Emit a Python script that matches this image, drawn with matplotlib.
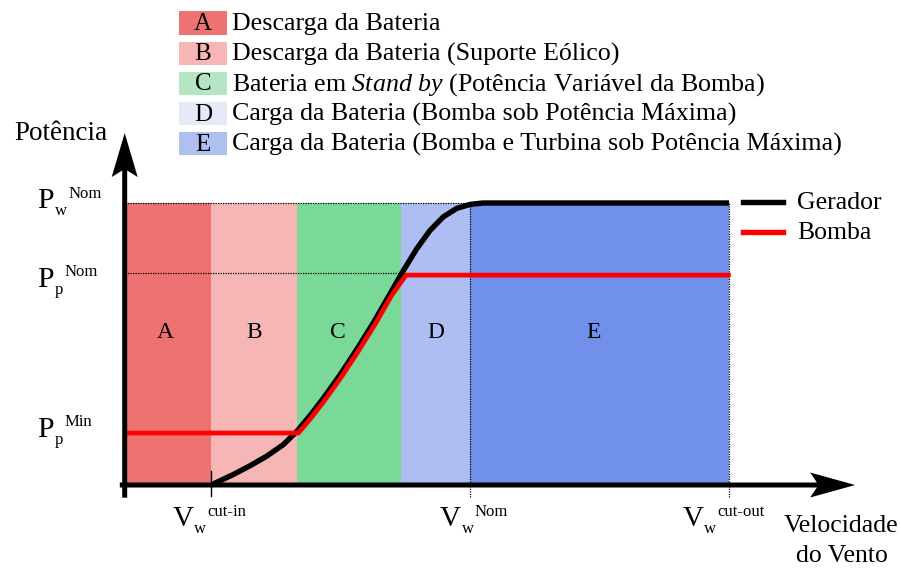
import matplotlib
matplotlib.use("Agg")
import matplotlib.pyplot as plt
import matplotlib.transforms as mtransforms
from matplotlib.patches import FancyArrow, Rectangle

plt.rcParams["font.family"] = ["Liberation Serif", "DejaVu Serif"]
plt.rcParams["mathtext.fontset"] = "custom"
plt.rcParams["mathtext.rm"] = "Liberation Serif"
plt.rcParams["mathtext.it"] = "Liberation Serif:italic"

# velocidades características (m/s) e potências normalizadas (P_w^Nom = 1)
v_cut_in = 3.0
v_nom = 12.0
v_cut_out = 21.0
p_w_nom = 1.0
p_p_nom = 0.75
p_p_min = 0.19

# limites das regiões de operação
region_edges = [0.0, 3.0, 6.0, 9.6, 12.0, 21.0]
region_names = ["A", "B", "C", "D", "E"]
region_colors = ["#ee7272", "#f6b6b6", "#7ad898", "#aebef2", "#7190ea"]
legend_colors = ["#ee7272", "#f6b6b6", "#b4e6c4", "#e6eaf8", "#aec0f0"]
legend_texts = [
    "Descarga da Bateria",
    "Descarga da Bateria (Suporte Eólico)",
    r"Bateria em $\mathit{Stand\ by}$ (Potência Variável da Bomba)",
    "Carga da Bateria (Bomba sob Potência Máxima)",
    "Carga da Bateria (Bomba e Turbina sob Potência Máxima)",
]

# curva do gerador
gen_v = [3.0, 3.77, 4.35, 4.93, 5.51, 5.98, 6.44, 6.90, 7.48, 8.06, 8.64,
         9.22, 9.68, 10.15, 10.61, 11.07, 11.54, 12.0, 12.45, 21.0]
gen_p = [0.0, 0.037, 0.068, 0.102, 0.143, 0.19, 0.246, 0.307, 0.390, 0.480,
         0.575, 0.678, 0.760, 0.838, 0.903, 0.951, 0.981, 0.995, 1.0, 1.0]

# curva da bomba
pump_v = [0.0, 5.98, 6.44, 6.90, 7.48, 8.06, 8.64, 9.22, 9.72, 21.0]
pump_p = [0.19, 0.19, 0.246, 0.307, 0.390, 0.480, 0.575, 0.678, 0.75, 0.75]

W, H = 901, 569
X0, SX = 124.7, 28.78   # pixel da origem e pixels por m/s
Y0, SY = 485.0, 282.0   # pixel da origem e pixels por unidade de potência

fig = plt.figure(figsize=(W / 100, H / 100), dpi=100)
ax = fig.add_axes([0, 0, 1, 1])
ax.set_xlim(-X0 / SX, (W - X0) / SX)
ax.set_ylim((Y0 - H) / SY, Y0 / SY)
ax.axis("off")
renderer = fig.canvas.get_renderer()


def fig_text(x, y, s, **kw):
    # x, y em pixels a partir do canto superior esquerdo
    return fig.text(x / W, 1 - y / H, s, **kw)


def sub_sup(x, y, base, sub, sup, size, small):
    t = fig_text(x, y, base, fontsize=size, va="baseline")
    x += t.get_window_extent(renderer).width + 0.5
    t = fig_text(x, y + 7, sub, fontsize=small, va="baseline")
    x += t.get_window_extent(renderer).width + 1.5
    fig_text(x, y - 10.5, sup, fontsize=small, va="baseline")


# regiões
widths = [b - a for a, b in zip(region_edges[:-1], region_edges[1:])]
ax.bar(region_edges[:-1], [p_w_nom] * 5, width=widths, align="edge",
       color=region_colors, linewidth=0, zorder=1)
label_v = [1.4, 4.5, 7.4, 10.8, 16.3]
for name, lv in zip(region_names, label_v):
    ax.text(lv, (Y0 - 338) / SY, name, fontsize=17, ha="center",
            va="baseline", zorder=3)

# linhas de referência pontilhadas
dot = dict(color="black", lw=0.9, ls=(0, (1, 1)), zorder=2)
ax.plot([0, v_nom], [p_w_nom, p_w_nom], **dot)
ax.plot([0, 9.6], [p_p_nom, p_p_nom], **dot)
ax.plot([v_nom, v_nom], [-0.043, p_w_nom], **dot)
ax.plot([v_cut_out, v_cut_out], [-0.043, p_w_nom], **dot)
ax.plot([v_cut_in, v_cut_in], [-0.04, 0.05], color="black", lw=1.0, zorder=5)

# curvas
ax.plot(gen_v, gen_p, color="black", lw=3.9, solid_capstyle="butt",
        solid_joinstyle="round", zorder=4)
shifted = mtransforms.offset_copy(ax.transData, fig=fig, x=1.6, y=-1.6,
                                  units="dots")
ax.plot(pump_v, pump_p, color="#ff0000", lw=3.4, transform=shifted,
        solid_capstyle="butt", solid_joinstyle="round", zorder=4.5)

# eixos com setas
ax.add_patch(FancyArrow(-0.17, 0, 25.55, 0, width=5 / SY, head_width=25 / SY,
                        head_length=45 / SX, length_includes_head=True,
                        overhang=0.15, color="black", lw=0, zorder=6))
ax.add_patch(FancyArrow(0, -0.045, 0, 1.293, width=5 / SX,
                        head_width=26 / SX, head_length=44 / SY,
                        length_includes_head=True, overhang=0.15,
                        color="black", lw=0, zorder=6))

# rótulos dos eixos
fig_text(14, 140, "Potência", fontsize=19.5, va="baseline")
fig_text(841.5, 532, "Velocidade", fontsize=18.5, va="baseline", ha="center")
fig_text(842, 562, "do Vento", fontsize=18.5, va="baseline", ha="center")

# marcas do eixo vertical
sub_sup(37.5, 208, "P", "w", "Nom", 21.5, 12)
sub_sup(37.5, 287, "P", "p", "Nom", 21.5, 12)
sub_sup(37.5, 437, "P", "p", "Min", 21.5, 12)

# marcas do eixo horizontal
sub_sup(172.5, 526, "V", "w", "cut-in", 21, 12)
sub_sup(440, 526, "V", "w", "Nom", 21, 12)
sub_sup(682.5, 526, "V", "w", "cut-out", 21, 12)

# legenda das regiões
for i, (name, col, txt) in enumerate(zip(region_names, legend_colors,
                                         legend_texts)):
    yc = 23 + 30.2 * i
    fig.patches.append(Rectangle((179 / W, 1 - (yc + 11.5) / H), 48 / W,
                                 23 / H, transform=fig.transFigure,
                                 facecolor=col, edgecolor="none"))
    fig_text(203, yc + 7, name, fontsize=18, ha="center", va="baseline")
    fig_text(232, yc + 7, txt, fontsize=18.7, va="baseline")

# legenda das curvas
for yl, col, lbl in [(202, "black", "Gerador"), (232, "#ff0000", "Bomba")]:
    fig.add_artist(plt.Line2D([743 / W, 783 / W], [1 - yl / H, 1 - yl / H],
                              color=col, lw=3.9, transform=fig.transFigure))
    fig_text(797, yl + 7, lbl, fontsize=18.5, va="baseline")

fig.savefig("out.png", dpi=100)
